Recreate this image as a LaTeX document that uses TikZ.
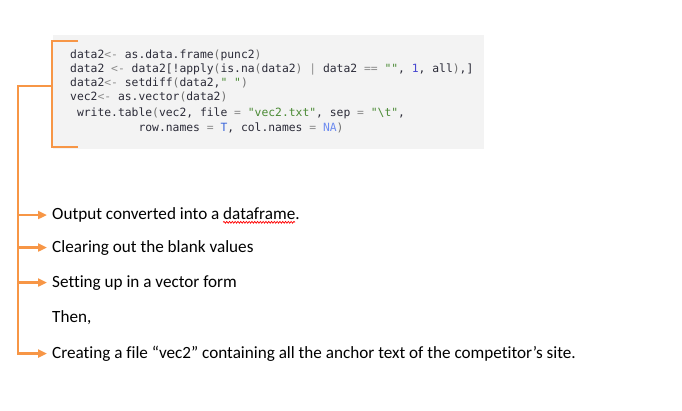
\documentclass[tikz,border=0pt]{standalone}
\usepackage{fontspec}
\setmainfont{Carlito}[Ligatures={TeX,NoCommon}]
\newfontfamily\codefont{DejaVu Sans Mono}
\usetikzlibrary{arrows.meta,decorations.pathmorphing}
\definecolor{accent}{HTML}{F79646}
\definecolor{codebg}{HTML}{F3F3F3}
\definecolor{codetxt}{HTML}{2B2B38}
\definecolor{codeop}{HTML}{8C8C8C}
\definecolor{codepar}{HTML}{707070}
\definecolor{codestr}{HTML}{4A8A34}
\definecolor{codenum}{HTML}{4848D0}
\definecolor{codet}{HTML}{3A66DA}
\definecolor{codena}{HTML}{6E8CF0}
\newcommand{\op}[1]{\textcolor{codeop}{#1}}
\newcommand{\pa}[1]{\textcolor{codepar}{#1}}
\newcommand{\st}[1]{\textcolor{codestr}{#1}}
\newcommand{\descfont}{\fontsize{17.15}{19}\selectfont}
\newlength\sqa \newlength\sqb
\tikzset{
  codeline/.style={anchor=base west, inner sep=0pt, text=codetxt,
    font=\codefont\fontsize{11.35}{13}\selectfont},
  desc/.style={anchor=base west, inner sep=0pt, text height=9pt, text depth=0pt,
    font=\descfont},
  orangeline/.style={draw=accent, line width=2.7pt, line cap=butt, line join=miter},
  arr/.style={orangeline, -{Triangle[length=9pt,width=8pt]}, shorten >=5pt},
  squig/.style={draw=red, line width=0.7pt, decorate,
    decoration={snake, amplitude=0.9pt, segment length=2.8pt}}
}
\begin{document}
\settowidth\sqa{\descfont Output converted into a\ }%
\settowidth\sqb{\descfont dataframe}%
\begin{tikzpicture}[x=1pt,y=-1pt]
\useasboundingbox (0,0) rectangle (682,410);
% code background
\node[fill=codebg, inner sep=0pt, minimum width=431pt, minimum height=114pt,
  anchor=north west] (codebox) at (53,35) {};
% code lines
\node[codeline] (c1) at (70,58) {data2\op{<-} as.data.frame\pa{(}punc2\pa{)}};
\node[codeline] (c2) at (70,72) {data2 \op{<-} data2[!apply\pa{(}is.na\pa{(}data2\pa{)} \op{|} data2 \op{==} \st{""}, \textcolor{codenum}{1}, all\pa{)},]};
\node[codeline] (c3) at (70,86) {data2\op{<-} setdiff\pa{(}data2,\st{" "}\pa{)}};
\node[codeline] (c4) at (70,100) {vec2\op{<-} as.vector\pa{(}data2\pa{)}};
\node[codeline] (c5) at (70,116) {\hphantom{0}write.table\pa{(}vec2, file \op{=} \st{"vec2.txt"}, sep \op{=} \st{"\textbackslash t"},};
\node[codeline] (c6) at (70,131) {\hphantom{0000000000}row.names \op{=} \textcolor{codet}{T}, col.names \op{=} \textcolor{codena}{NA}\pa{)}};
% description lines
\node[desc] (t1) at (52,219.5) {Output converted into a dataframe.};
\node[desc] (t2) at (52,252) {Clearing out the blank values};
\node[desc] (t3) at (52,287) {Setting up in a vector form};
\node[desc] (t4) at (52,322) {Then,};
\node[desc] (t5) at (52,358) {Creating a file “vec2” containing all the anchor text of the competitor’s site.};
% spell-check squiggle under "dataframe"
\coordinate (sqs) at ([xshift=\sqa,yshift=-2.8pt]t1.base west);
\coordinate (sqe) at ([xshift=\sqa+\sqb,yshift=-2.8pt]t1.base west);
\draw[squig] (sqs) -- (sqe);
% bracket around the code
\coordinate (btop) at (78,41);
\coordinate (bbot) at (78,147);
\coordinate (bmid) at (52,86);
\coordinate (vtop) at (18,86);
\draw[orangeline] (btop) -- (btop -| bmid) -- (bbot -| bmid) -- (bbot);
% trunk and arrows
\draw[arr] (bmid) -- (vtop) -- (vtop |- t5.west) -- (t5.west);
\draw[arr] (vtop |- t1.west) -- (t1.west);
\draw[arr] (vtop |- t2.west) -- (t2.west);
\draw[arr] (vtop |- t3.west) -- (t3.west);
\end{tikzpicture}
\end{document}
